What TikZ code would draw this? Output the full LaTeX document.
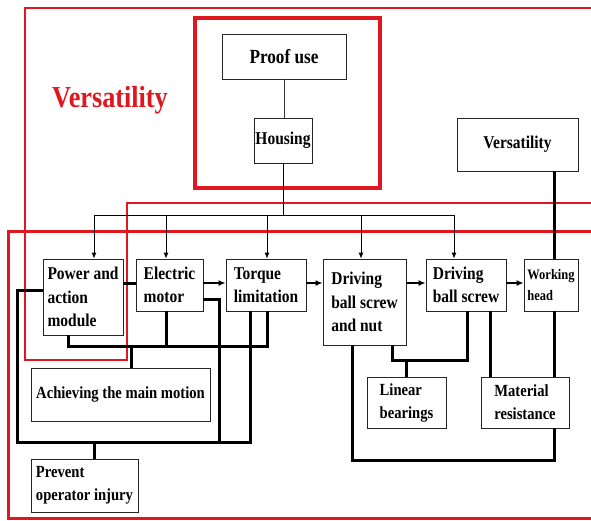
\documentclass[tikz,border=0pt]{standalone}
\usepackage{fontspec}
\setmainfont{Liberation Serif}[FakeStretch=0.86]
\usetikzlibrary{arrows.meta}
\definecolor{markred}{RGB}{222,24,30}

\begin{document}
\begin{tikzpicture}[x=1pt,y=-1pt,
  box/.style={draw=black!85,line width=0.8pt,inner sep=1pt,align=left,font=\fontsize{18}{23.5}\selectfont\bfseries},
  small/.style={font=\fontsize{17}{23}\selectfont\bfseries},
  feed/.style={line width=0.8pt,-{Latex[length=6pt,width=5pt]}},
  flow/.style={line width=1.6pt,-{Latex[length=7pt,width=6pt]}},
  link/.style={line width=3pt},
  zone/.style={draw=markred,line width=2pt}]
\useasboundingbox (0,0) rectangle (591,520);
% red frames
\draw[zone] (600,8) -- (25,8) -- (25,360) -- (127,360) -- (127,203) -- (600,203);
\draw[zone,line width=3pt] (600,231) -- (8,231) -- (8,518) -- (600,518);
\draw[zone,line width=4.5pt] (195,18) rectangle (380,188);
\node[text=markred,font=\fontsize{30.5}{32}\selectfont\bfseries] at (110,100) (title) {Versatility};
% boxes
\node[box,minimum width=124pt,minimum height=45pt,font=\fontsize{20}{22}\selectfont\bfseries] at (284,56.5) (proof) {Proof use};
\node[box,minimum width=58pt,minimum height=45pt,inner sep=0pt] at (283,140.5) (housing) {Housing};
\node[box,minimum width=121pt,minimum height=53pt] at (517.5,144.5) (vers) {Versatility};
\node[box,minimum width=80pt,minimum height=76pt] at (83,297) (power) {Power and\\action\\module};
\node[box,minimum width=67pt,minimum height=52pt] at (169.5,285) (motor) {Electric\\motor};
\node[box,minimum width=80pt,minimum height=52pt] at (266,285) (torque) {Torque\\limitation};
\node[box,minimum width=83pt,minimum height=86pt] at (364.5,302) (nut) {Driving\\ball screw\\and nut};
\node[box,minimum width=80pt,minimum height=52pt] at (466,285) (screw) {Driving\\ball screw};
\node[box,minimum width=54pt,minimum height=52pt,font=\fontsize{14.5}{21}\selectfont\bfseries] at (551,285) (head) {Working\\head};
\node[box,small,minimum width=179pt,minimum height=53pt] at (120.5,394.5) (motion) {Achieving the main motion};
\node[box,small,minimum width=107pt,minimum height=53pt] at (84.5,485.5) (injury) {Prevent\\operator injury};
\node[box,small,minimum width=79pt,minimum height=51pt] at (406.5,402.5) (bearing) {Linear\\bearings};
\node[box,small,minimum width=88pt,minimum height=51pt] at (525,402.5) (material) {Material\\resistance};
% housing feeds
\coordinate (b1) at (94,215);
\coordinate (b2) at (166,215);
\coordinate (b3) at (267,215);
\coordinate (b4) at (361,215);
\coordinate (b5) at (454,215);
\draw[line width=0.8pt,black!80] (proof) -- (proof.south |- housing.north);
\draw[line width=0.8pt] (housing) -- (housing.south |- b1);
\draw[line width=0.8pt] (b1) -- (b5);
\draw[feed] (b1) -- (b1 |- power.north);
\draw[feed] (b2) -- (b2 |- motor.north);
\draw[feed] (b3) -- (b3 |- torque.north);
\draw[feed] (b4) -- (b4 |- nut.north);
\draw[feed] (b5) -- (b5 |- screw.north);
% main chain
\coordinate (row) at (0,283);
\draw[link] (power.east |- row) -- (motor.west |- row);
\draw[flow] (motor.east |- row) -- (torque.west |- row);
\draw[flow] (torque.east |- row) -- (nut.west |- row);
\draw[flow] (nut.east |- row) -- (screw.west |- row);
\draw[flow] (screw.east |- row) -- (head.west |- row);
% main motion
\coordinate (m1) at (68,346);
\coordinate (m2) at (267,346);
\coordinate (m3) at (131,346);
\draw[link] (m1 |- power.south) -- (m1) -- (m2) -- (m2 |- torque.south);
\draw[link] (b2 |- motor.south) -- (b2 |- m1);
\draw[link] (m3) -- (m3 |- motion.north);
% operator safety
\coordinate (q) at (17,290);
\coordinate (p1) at (17,442);
\coordinate (p2) at (250,442);
\coordinate (p3) at (94,442);
\coordinate (r) at (219,299);
\draw[link] (power.west |- q) -- (q) -- (p1) -- (p2) -- (p2 |- torque.south);
\draw[link] (motor.east |- r) -- (r) -- (r |- p1);
\draw[link] (p3) -- (p3 |- injury.north);
% bearings
\coordinate (k1) at (392,360);
\coordinate (k2) at (467,360);
\coordinate (k3) at (406,360);
\coordinate (k4) at (490,360);
\draw[link] (k1 |- nut.south) -- (k1) -- (k2) -- (k2 |- screw.south);
\draw[link] (k3) -- (k3 |- bearing.north);
\draw[link] (k4 |- screw.south) -- (k4 |- material.north);
% material resistance
\coordinate (n1) at (352,460);
\coordinate (n2) at (554,460);
\draw[link] (n1 |- nut.south) -- (n1) -- (n2) -- (n2 |- material.south);
\draw[link] (n2 |- material.north) -- (n2 |- head.south);
\draw[link] (n2 |- vers.south) -- (n2 |- head.north);
\end{tikzpicture}
\end{document}
